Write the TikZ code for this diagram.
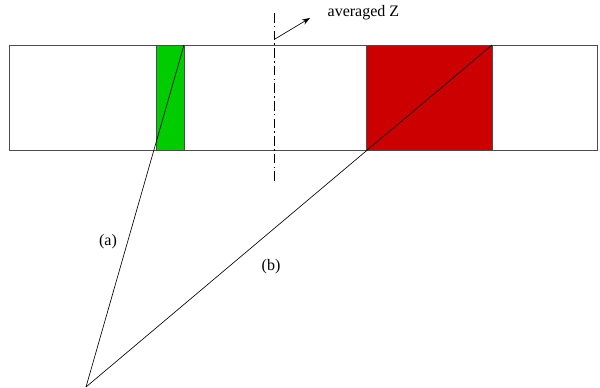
\documentclass[tikz,border=0pt]{standalone}
\usepackage{fontspec}
\setmainfont{Liberation Serif}
\usetikzlibrary{arrows.meta}
\definecolor{cellgreen}{RGB}{0,204,0}
\definecolor{cellred}{RGB}{204,0,0}
\begin{document}
\begin{tikzpicture}[x=0.625pt,y=0.625pt,>=Stealth]
		\useasboundingbox (0,0) rectangle (600,388);
		% strip and the two filled cells
		\draw[black!70,fill=white] (9,238) rectangle (597,343);
		\draw[black!70,fill=cellgreen] (156.5,238) rectangle (184,343);
		\draw[black!70,fill=cellred] (366,238) rectangle (492,343);
		\coordinate (eye) at (86,1);
		\coordinate (gtop) at (184,343);
		\coordinate (rtop) at (492,343);
		\draw (eye) -- (gtop);
		\draw (eye) -- (rtop);
		\node (la) at (108,146) {(a)};
		\node (lb) at (271,121) {(b)};
		% averaging plane
		\coordinate (ztop) at (274,375);
		\coordinate (zbot) at (274,207);
		\draw[dash pattern=on 6pt off 2pt on 1pt off 2pt] (ztop) -- (zbot);
		\coordinate (zarr) at (275,349);
		\node[anchor=west] (zlab) at (322,375) {averaged Z};
		\draw[->,>={Stealth[length=5pt,width=3.5pt]}] (zarr) -- (310,370);
	\end{tikzpicture}
\end{document}
